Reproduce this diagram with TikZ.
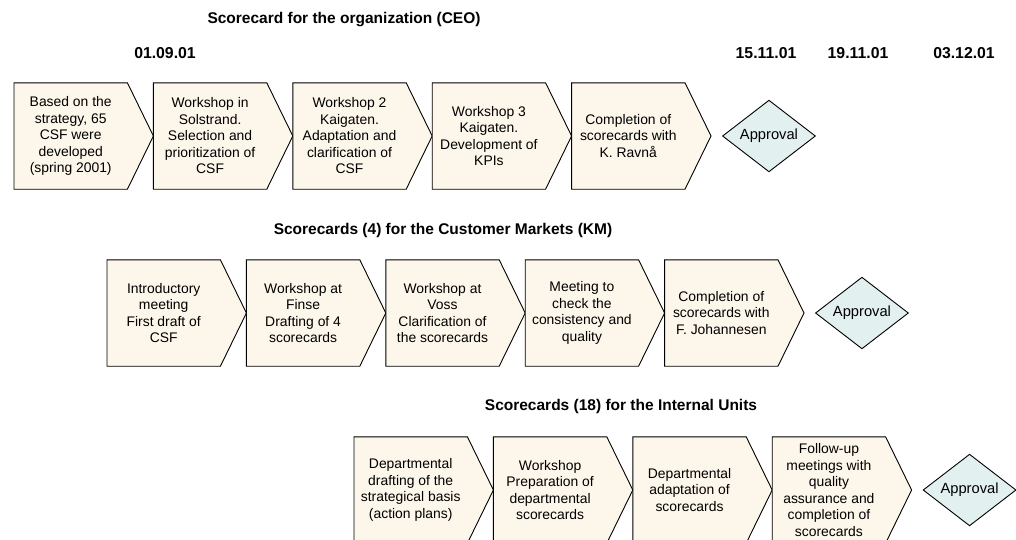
\documentclass[tikz,border=0pt]{standalone}
\usepackage{fontspec}
\setmainfont{Liberation Sans}
\usetikzlibrary{positioning,shapes.geometric,backgrounds}
\definecolor{parchment}{RGB}{253,246,234}
\definecolor{mistblue}{RGB}{226,240,240}

\tikzset{
  stepbox/.style={minimum width=113pt, minimum height=106pt, inner sep=0pt, align=center,
                  font=\fontsize{13.9}{16.5}\selectfont},
  okbox/.style={diamond, draw=black, fill=mistblue, line width=0.9pt, minimum width=93pt,
                minimum height=71pt, inner sep=0pt, font=\fontsize{14.7}{17}\selectfont},
  heading/.style={font=\bfseries\fontsize{15.5}{18}\selectfont},
  datelabel/.style={font=\bfseries\fontsize{15.8}{18}\selectfont},
  outline/.style={draw=black, fill=parchment, line width=0.9pt, line join=miter}
}

\begin{document}
\begin{tikzpicture}[x=1pt, y=-1pt]
  \useasboundingbox (0,0) rectangle (1016,539);

  % headings and dates
  \node[heading]   (ceotitle) at (344, 20) {Scorecard for the organization (CEO)};
  \node[heading]   (kmtitle)  at (443,230) {Scorecards (4) for the Customer Markets (KM)};
  \node[heading]   (iutitle)  at (621,406) {Scorecards (18) for the Internal Units};
  \node[datelabel] (dstart)   at (165, 53) {01.09.01};
  \node[datelabel] (dceo)     at (766, 53) {15.11.01};
  \node[datelabel] (dkm)      at (858, 53) {19.11.01};
  \node[datelabel] (diu)      at (964, 53) {03.12.01};

  % CEO row
  \node[stepbox, anchor=west] (ceo1) at (14,136) {Based on the\\strategy, 65\\CSF were\\developed\\(spring 2001)};
  \node[stepbox, right=26pt of ceo1] (ceo2) {Workshop in\\Solstrand.\\Selection and\\prioritization of\\CSF};
  \node[stepbox, right=26pt of ceo2] (ceo3) {Workshop 2\\Kaigaten.\\Adaptation and\\clarification of\\CSF};
  \node[stepbox, right=26pt of ceo3] (ceo4) {Workshop 3\\Kaigaten.\\Development of\\KPIs};
  \node[stepbox, right=26pt of ceo4] (ceo5) {Completion of\\scorecards with\\K. Ravnå};
  \node[okbox,   right=37pt of ceo5] (ceook) {Approval};

  % KM row
  \node[stepbox, anchor=west] (km1) at (107,313) {Introductory\\meeting\\First draft of\\CSF};
  \node[stepbox, right=26pt of km1] (km2) {Workshop at\\Finse\\Drafting of 4\\scorecards};
  \node[stepbox, right=26pt of km2] (km3) {Workshop at\\Voss\\Clarification of\\the scorecards};
  \node[stepbox, right=26pt of km3] (km4) {Meeting to\\check the\\consistency and\\quality};
  \node[stepbox, right=26pt of km4] (km5) {Completion of\\scorecards with\\F. Johannesen};
  \node[okbox,   right=37pt of km5] (kmok) {Approval};

  % internal units row
  \node[stepbox, anchor=west] (iu1) at (354,490) {Departmental\\drafting of the\\strategical basis\\(action plans)};
  \node[stepbox, right=26pt of iu1] (iu2) {Workshop\\Preparation of\\departmental\\scorecards};
  \node[stepbox, right=26pt of iu2] (iu3) {Departmental\\adaptation of\\scorecards};
  \node[stepbox, right=26pt of iu3] (iu4) {Follow-up\\meetings with\\quality\\assurance and\\completion of\\scorecards};
  \node[okbox,   right=37pt of iu4] (iuok) {Approval};

  % chevron outlines behind the texts
  \begin{scope}[on background layer]
    \foreach \n in {ceo1,ceo2,ceo3,ceo4,ceo5,km1,km2,km3,km4,km5,iu1,iu2,iu3,iu4}
      \filldraw[outline] (\n.north west) -- (\n.north east) -- ([xshift=26pt]\n.east)
                         -- (\n.south east) -- (\n.south west) -- cycle;
  \end{scope}
\end{tikzpicture}
\end{document}
